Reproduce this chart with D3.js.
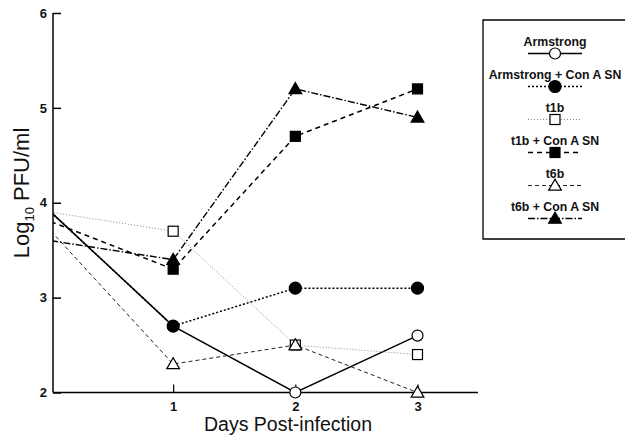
<!DOCTYPE html>
<html><head><meta charset="utf-8">
<script src="https://cdn.jsdelivr.net/npm/d3@7"></script>
<style>body{margin:0;background:#fff}svg{display:block}</style>
</head><body>
<svg id="c" width="625" height="438"></svg>
<script>
const days = [0, 1, 2, 3];
const xTicks = [1, 2, 3];
const yTicks = [2, 3, 4, 5, 6];
const seriesNames = ["Armstrong", "Armstrong + Con A SN", "t1b", "t1b + Con A SN", "t6b", "t6b + Con A SN"];
const armstrong = [3.9, 2.7, 2.0, 2.6];
const armstrongCon = [3.9, 2.7, 3.1, 3.1];
const t1b = [3.9, 3.7, 2.5, 2.4];
const t1bCon = [3.8, 3.3, 4.7, 5.2];
const t6b = [3.7, 2.3, 2.5, 2.0];
const t6bCon = [3.6, 3.4, 5.2, 4.9];

const styles = [
  {dash: null, color: "#000", width: 1.5, marker: "circle", fill: "#fff"},
  {dash: "2,2", color: "#000", width: 1.5, marker: "circle", fill: "#000"},
  {dash: "1,2", color: "#888", width: 1, marker: "square", fill: "#fff"},
  {dash: "5,4", color: "#000", width: 1.5, marker: "square", fill: "#000"},
  {dash: "4,3", color: "#222", width: 1, marker: "triangle", fill: "#fff"},
  {dash: "7,2,1.5,2", color: "#000", width: 1.4, marker: "triangle", fill: "#000"}
];
const allValues = [armstrong, armstrongCon, t1b, t1bCon, t6b, t6bCon];

const svg = d3.select("#c");
const axisX0 = 53, axisX1 = 478, axisY = 392.5, axisTop = 13;
const x = d3.scaleLinear().domain([0, 3]).range([51, 417.5]);
const y = d3.scaleLinear().domain([2, 6]).range([392.5, 13]);
const font = "'Liberation Sans', Arial, Helvetica, sans-serif";

svg.append("defs").append("clipPath").attr("id", "clip")
  .append("rect").attr("x", axisX0).attr("y", 0).attr("width", 500).attr("height", 438);

// axes
const yAxis = d3.axisLeft(y).tickValues(yTicks).tickFormat(d3.format("d")).tickSizeInner(-8).tickSizeOuter(0).tickPadding(6);
const gy = svg.append("g").attr("transform", `translate(${axisX0},0)`).call(yAxis);
gy.select(".domain").remove();
gy.selectAll(".tick line").attr("stroke", "#000").attr("stroke-width", 1.5);
gy.selectAll(".tick text").attr("font-family", font).attr("font-weight", "bold").attr("font-size", 13).attr("fill", "#111");
svg.append("line").attr("x1", axisX0).attr("x2", axisX0).attr("y1", axisTop).attr("y2", axisY)
  .attr("stroke", "#000").attr("stroke-width", 1.5);

const xAxis = d3.axisBottom(x).tickValues(xTicks).tickFormat(d3.format("d")).tickSizeInner(-8).tickSizeOuter(0).tickPadding(9);
const gx = svg.append("g").attr("transform", `translate(0,${axisY})`).call(xAxis);
gx.select(".domain").remove();
gx.selectAll(".tick line").attr("stroke", "#000").attr("stroke-width", 1.2);
gx.selectAll(".tick text").attr("font-family", font).attr("font-weight", "bold").attr("font-size", 13).attr("fill", "#111");
svg.append("line").attr("x1", axisX0).attr("x2", axisX1).attr("y1", axisY).attr("y2", axisY)
  .attr("stroke", "#000").attr("stroke-width", 1.5);

// axis titles
svg.append("text").attr("x", 288).attr("y", 431).attr("text-anchor", "middle")
  .attr("font-family", font).attr("font-size", 19.5).attr("fill", "#111").text("Days Post-infection");
const yt = svg.append("text").attr("transform", "translate(29,193) rotate(-90)").attr("text-anchor", "middle")
  .attr("font-family", font).attr("font-size", 22).attr("fill", "#111");
yt.append("tspan").text("Log");
yt.append("tspan").attr("font-size", 13).attr("dy", 5).text("10");
yt.append("tspan").attr("dy", -5).text(" PFU/ml");

// markers
function drawMarker(g, type, cx, cy, fill) {
  if (type === "circle") {
    g.append("circle").attr("cx", cx).attr("cy", cy).attr("r", fill === "#000" ? 6 : 5.5)
      .attr("fill", fill).attr("stroke", "#000").attr("stroke-width", 1.2);
  } else if (type === "square") {
    const s = 10;
    g.append("rect").attr("x", cx - s / 2).attr("y", cy - s / 2).attr("width", s).attr("height", s)
      .attr("fill", fill).attr("stroke", "#000").attr("stroke-width", 1.2);
  } else {
    g.append("path").attr("d", d3.symbol().type(d3.symbolTriangle).size(70)())
      .attr("transform", `translate(${cx},${cy + 1})`)
      .attr("fill", fill).attr("stroke", "#000").attr("stroke-width", 1.2);
  }
}

const line = d3.line().x((d, i) => x(days[i])).y(d => y(d));
const linesG = svg.append("g").attr("clip-path", "url(#clip)");
allValues.forEach((vals, k) => {
  const s = styles[k];
  linesG.append("path").datum(vals).attr("d", line).attr("fill", "none")
    .attr("stroke", s.color).attr("stroke-width", s.width)
    .attr("stroke-dasharray", s.dash);
});
const markG = svg.append("g");
allValues.forEach((vals, k) => {
  const s = styles[k];
  vals.forEach((v, i) => {
    if (days[i] === 0) return;
    drawMarker(markG, s.marker, x(days[i]), y(v), s.fill);
  });
});

// legend
const lg = svg.append("g");
lg.append("path").attr("d", "M626,20 H483 V239 H626").attr("fill", "none").attr("stroke", "#000").attr("stroke-width", 1.3);
const lcx = 555;
seriesNames.forEach((name, i) => {
  const s = styles[i];
  const ty = 45.5 + i * 33, sy = 53.5 + i * 33;
  lg.append("text").attr("x", lcx).attr("y", ty).attr("text-anchor", "middle")
    .attr("font-family", font).attr("font-weight", "bold").attr("font-size", 12.3).attr("fill", "#111")
    .text(name);
  lg.append("line").attr("x1", lcx - 27).attr("x2", lcx + 27).attr("y1", sy).attr("y2", sy)
    .attr("stroke", s.color).attr("stroke-width", s.width).attr("stroke-dasharray", s.dash);
  drawMarker(lg, s.marker, lcx, sy, s.fill);
});
</script>
</body></html>
